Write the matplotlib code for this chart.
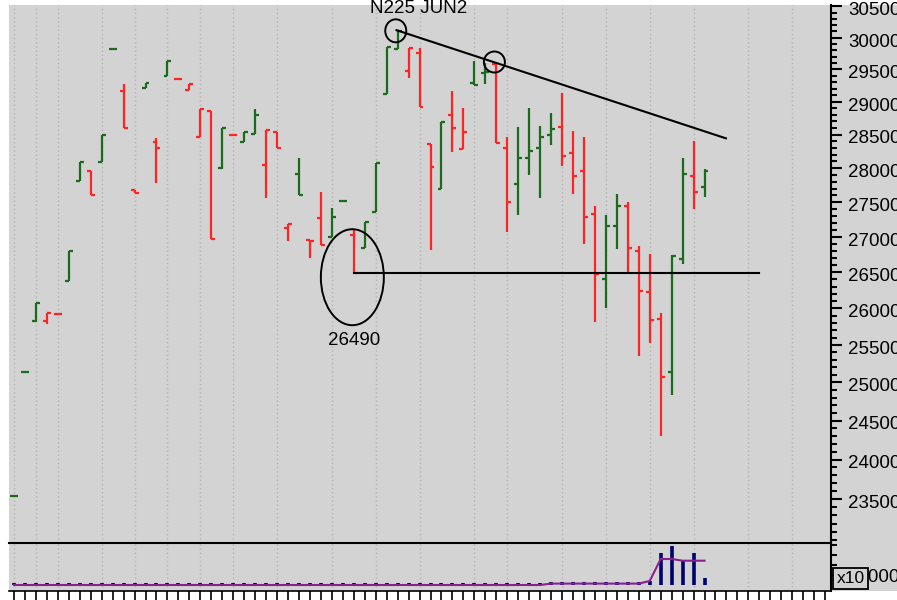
import matplotlib
matplotlib.use("Agg")
import matplotlib.pyplot as plt
import numpy as np
from matplotlib.patches import Ellipse, Rectangle
from matplotlib.ticker import FixedLocator, NullFormatter, FixedFormatter
from matplotlib.transforms import ScaledTranslation

plt.rcParams['font.family'] = ['Liberation Sans', 'DejaVu Sans']

# barras semanales N225 JUN2 (precios)
opens = [23540, 25140, 25820, 25820, 25920, 26380, 27810, 27960, 28090, 29820,
         29170, 27680, 29210, 28390, 29400, 29350, 29180, 28470, 28860, 28000,
         28500, 28390, 28510, 28050, 28540, 27130, 27910, 26955, 27270, 27000,
         27520, 27030, 26840, 27360, 29120, 29820, 29480, 29760, 28360, 27690,
         28800, 28280, 29290, 29445, 29585, 28300, 27765, 28150, 28300, 28495,
         28610, 28220, 27960, 27330, 26400, 27160, 27440, 26800, 26220, 25850,
         25140, 26690, 27880, 27720]
highs = [23540, 25140, 26070, 25930, 25920, 26800, 28090, 27960, 28500, 29820,
         29270, 27680, 29290, 28450, 29630, 29350, 29270, 28890, 28860, 28600,
         28500, 28540, 28890, 28570, 28540, 27180, 28150, 26955, 27650, 27420,
         27520, 27100, 27210, 28080, 29850, 30110, 29840, 29840, 28360, 28690,
         29170, 28900, 29630, 29600, 29617, 28465, 28610, 28900, 28630, 28830,
         29130, 28550, 28470, 27440, 27310, 27620, 27500, 26870, 26760, 25930,
         26740, 28150, 28400, 27990]
lows = [23540, 25140, 25810, 25780, 25920, 26380, 27810, 27600, 28090, 29820,
        28600, 27630, 29210, 27780, 29400, 29350, 29180, 28470, 26970, 27990,
        28500, 28390, 28510, 27560, 28300, 26940, 27600, 26700, 26880, 27000,
        27520, 26490, 26840, 27360, 29120, 29820, 29370, 28920, 26810, 27690,
        28240, 28280, 29260, 29275, 28374, 27070, 27320, 27900, 27560, 28340,
        28030, 27620, 26900, 25810, 26000, 26830, 26480, 25350, 25520, 24300,
        24830, 26620, 27400, 27580]
closes = [23540, 25140, 26070, 25930, 25920, 26800, 28090, 27600, 28500, 29820,
          28600, 27630, 29290, 28300, 29630, 29350, 29270, 28890, 26970, 28600,
          28500, 28540, 28800, 28570, 28300, 27180, 27600, 26940, 26880, 27290,
          27520, 26490, 27210, 28080, 29850, 30110, 29840, 28920, 28020, 28690,
          28600, 28540, 29260, 29460, 28374, 27500, 28150, 28250, 28465, 28585,
          28180, 27880, 27285, 26480, 27160, 27440, 26840, 26240, 25840, 25070,
          26730, 27910, 27650, 27960]
volume = [2000, 2000, 2000, 2000, 2000, 2000, 2000, 2000, 2000, 2000,
          2000, 2000, 2000, 2000, 2000, 2000, 2000, 2000, 2000, 2000,
          2000, 2000, 2000, 2000, 2000, 2000, 2000, 2000, 2000, 2000,
          2000, 2000, 2000, 2000, 2000, 2000, 2000, 2000, 2000, 2000,
          2000, 2000, 2000, 2000, 2000, 2000, 2000, 2000, 2000, 3000,
          3000, 3000, 3000, 3000, 3000, 3000, 3000, 3000, 4000, 31700,
          39000, 25000, 31700, 6700]
vol_line = [0, 0, 0, 0, 0, 0, 0, 0, 0, 0,
            0, 0, 0, 0, 0, 0, 0, 0, 0, 0,
            0, 0, 0, 0, 0, 0, 0, 0, 0, 0,
            0, 0, 0, 0, 0, 0, 0, 0, 0, 0,
            0, 0, 0, 0, 0, 0, 0, 0, 0, 1400,
            1400, 1400, 1400, 1400, 1400, 1400, 1400, 1400, 4000, 26000,
            26000, 24300, 24300, 24300]

grid_slots = [0, 2, 4, 8, 11, 14, 17, 20, 24, 29, 33, 37, 42, 45, 50, 54, 58, 62, 67, 71]
price_ticks = [23500, 24000, 24500, 25000, 25500, 26000, 26500, 27000,
               27500, 28000, 28500, 29000, 29500, 30000, 30500]
support = 26490
support_x = [31, 68]
trend_x = [34.9, 64.95]
trend_y = [30120, 28445]

BG = "#d3d3d3"
RED = "#ff2424"
GREEN = "#1c6b1c"
NAVY = "#00006e"

W, H = 897, 600
fig = plt.figure(figsize=(W / 100, H / 100), dpi=100)
fig.patch.set_facecolor(BG)
# franjas blancas alrededor del area del grafico
for (x0, y0, w, h) in [(0, 595, 897, 5), (0, 0, 9, 600), (0, 0, 897, 9)]:
    fig.add_artist(Rectangle((x0 / W, y0 / H), w / W, h / H, transform=fig.transFigure,
                             color="white", zorder=-5, lw=0))

ax = fig.add_axes([9 / W, 57 / H, 822 / W, 538 / H])
axv = fig.add_axes([9 / W, 9 / H, 822 / W, 48 / H])
xlim = (-0.456, 74.54)

# --- panel de precios ---
ax.set_facecolor(BG)
ax.set_yscale("log")
ax.set_xlim(*xlim)
ax.set_ylim(22963, 30524)
for s in grid_slots:
    ax.axvline(s, color="#b4b4b4", lw=1, ls=(0, (1, 2)), zorder=0)

n = len(closes)
xs = np.arange(n)
colors = []
prev = None
for c in closes:
    colors.append(GREEN if prev is None or c >= prev else RED)
    prev = c
tk = 0.36
ax.vlines(xs, lows, highs, colors=colors, lw=1.6, zorder=3)
ax.hlines(opens, xs - tk, xs, colors=colors, lw=1.6, zorder=3)
ax.hlines(closes, xs, xs + tk, colors=colors, lw=1.6, zorder=3)

ax.plot(trend_x, trend_y, color="black", lw=1.5, zorder=4)
ax.plot(support_x, [support, support], color="black", lw=1.5, zorder=4)


def ring(x, y, w_px, h_px):
    tr = fig.dpi_scale_trans + ScaledTranslation(x, y, ax.transData)
    ax.add_patch(Ellipse((0, 0), w_px / 100, h_px / 100, transform=tr,
                         fill=False, ec="black", lw=1.4, zorder=5))


ring(34.83, highs[35], 21, 23)
ring(43.83, highs[44], 21, 21)
ring(30.87, 26430, 63, 96)
ax.text(31.05, 25560, str(support), ha="center", va="center", fontsize=13.5)
fig.text(419 / W, 1 - 13 / H, "N225 JUN2", ha="center", va="baseline", fontsize=13.5)

ax.yaxis.tick_right()
ax.yaxis.set_major_locator(FixedLocator(price_ticks))
ax.yaxis.set_major_formatter(FixedFormatter([str(p) for p in price_ticks]))
ax.yaxis.set_minor_locator(FixedLocator(np.arange(23000, 30600, 100)))
ax.yaxis.set_minor_formatter(NullFormatter())
ax.tick_params(axis="y", which="major", length=8, width=1.5, pad=4.3, labelsize=13.5)
ax.tick_params(axis="y", which="minor", length=4.5, width=1.5)
ax.set_xticks([])
for side in ["top", "left", "bottom"]:
    ax.spines[side].set_visible(False)
ax.spines["right"].set_linewidth(1.5)

# --- panel de volumen ---
axv.set_facecolor(BG)
axv.set_xlim(*xlim)
axv.set_ylim(-6000, 42000)
for s in grid_slots:
    axv.axvline(s, color="#b4b4b4", lw=1, ls=(0, (1, 2)), zorder=0)
axv.vlines(xs, 0, volume, color=NAVY, lw=2.6, zorder=3)
axv.plot(xs, vol_line, color="#8a1f8f", lw=1.5, zorder=4)
axv.yaxis.tick_right()
axv.set_yticks([10000])
axv.set_yticklabels(["10000"])
axv.yaxis.set_minor_locator(FixedLocator([20000, 30000, 40000]))
axv.tick_params(axis="y", which="major", length=8, width=1.5, pad=4.3, labelsize=13.5)
axv.tick_params(axis="y", which="minor", length=4.5, width=1.5)
axv.set_xticks(np.arange(0, 75))
axv.set_xticklabels([])
axv.tick_params(axis="x", length=7, width=1.2, direction="out")
axv.spines["left"].set_visible(False)
axv.spines["top"].set_linewidth(1.5)
axv.spines["right"].set_linewidth(1.5)
axv.spines["bottom"].set_linewidth(1.2)
axv.text(1.007, 0.26, "x10", transform=axv.transAxes, ha="left", va="center", fontsize=12.5,
         zorder=10, bbox=dict(boxstyle="square,pad=0.2", fc=BG, ec="black", lw=1.3),
         clip_on=False)

# etiquetas del eje de precios un poco por debajo de su marca, como en el original
shift = ScaledTranslation(0, -2.3 / 100, fig.dpi_scale_trans)
for t in ax.yaxis.get_major_ticks():
    t.label2.set_transform(t.label2.get_transform() + shift)

fig.savefig("out.png", dpi=100, facecolor=fig.get_facecolor())
